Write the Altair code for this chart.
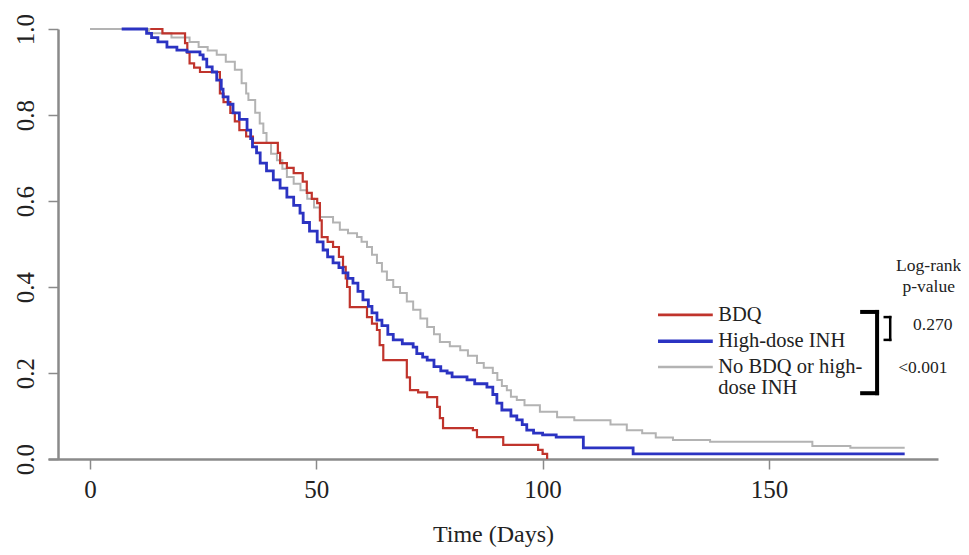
import altair as alt
import pandas as pd

groups = ["BDQ", "High-dose INH", "No BDQ or high-dose INH"]
colors = ["#c0342c", "#2b33c2", "#b3b3b3"]

# Kaplan-Meier step curves (time in days, survival probability)
bdq_t = [13.3, 16, 21, 21.5, 22, 23, 24.3, 28.7, 29.5, 31, 32, 33, 34.5, 36, 41.5, 42,
         43.5, 45, 47, 47.9, 49, 50.2, 50.8, 51.2, 52.5, 53.7, 55, 55.9, 56.5, 56.8, 57.4,
         61.2, 62.3, 63.4, 64, 64.8, 70, 70.7, 72.5, 74.5, 76.7, 77.3, 78, 84.6, 85.5,
         91.3, 99, 100, 101]
bdq_s = [1.0, 0.99, 0.967, 0.945, 0.92, 0.91, 0.9, 0.85, 0.83, 0.805, 0.785, 0.765, 0.75,
         0.735, 0.712, 0.688, 0.677, 0.665, 0.645, 0.619, 0.605, 0.595, 0.555, 0.516, 0.505,
         0.493, 0.47, 0.447, 0.42, 0.4, 0.353, 0.33, 0.315, 0.3, 0.265, 0.23, 0.19, 0.16,
         0.155, 0.144, 0.121, 0.095, 0.072, 0.067, 0.051, 0.033, 0.021, 0.012, 0.0]

inh_t = [7, 12.5, 13.6, 15, 17, 19.2, 21.4, 24.3, 25, 25.8, 27, 28, 29, 29.4, 30.5, 31.6,
         33, 34.7, 35.5, 35.9, 36.8, 37.6, 39, 40.5, 42, 43.5, 45, 46.4, 47.1, 48.5, 50.2,
         51.5, 52.5, 53.7, 55, 55.9, 57, 58.1, 59.2, 60.3, 61.5, 62.3, 63.4, 64.5, 65.8,
         67, 69, 71.4, 72.2, 73.5, 74.5, 76, 77.5, 78.9, 80, 83.3, 85, 87.7, 89, 89.9, 91,
         93, 94.3, 95.5, 96.5, 98, 100, 103, 109, 120, 180]
inh_s = [1.0, 0.99, 0.98, 0.97, 0.958, 0.951, 0.947, 0.94, 0.93, 0.912, 0.9, 0.881, 0.86,
         0.842, 0.825, 0.805, 0.79, 0.765, 0.745, 0.726, 0.712, 0.688, 0.67, 0.649, 0.63,
         0.609, 0.59, 0.572, 0.55, 0.53, 0.505, 0.486, 0.47, 0.456, 0.445, 0.433, 0.42,
         0.409, 0.39, 0.37, 0.355, 0.34, 0.323, 0.31, 0.29, 0.277, 0.268, 0.26, 0.245,
         0.237, 0.23, 0.215, 0.205, 0.2, 0.191, 0.184, 0.175, 0.167, 0.15, 0.13, 0.114,
         0.1, 0.091, 0.08, 0.067, 0.06, 0.056, 0.051, 0.026, 0.012, 0.012]

none_t = [0, 13, 18, 22, 24, 26, 28, 30, 32, 33.5, 34.5, 35, 36.5, 37.5, 38.3, 39, 40,
          41.3, 42.5, 43.5, 45, 46.5, 48, 49.5, 50.8, 53.7, 55.2, 57, 59, 60, 61.2, 62.3,
          63.4, 64.5, 65.6, 67, 68.5, 70, 71.4, 73, 74.5, 76, 77.3, 79.5, 81.8, 83.5, 85.5,
          87, 89, 90, 91, 92.1, 93, 94.3, 96, 99.4, 103.2, 107, 115, 118.6, 122, 125,
          128.8, 137, 159.6, 168, 180]
none_s = [1.0, 0.99, 0.98, 0.97, 0.958, 0.95, 0.94, 0.924, 0.905, 0.874, 0.85, 0.835,
          0.805, 0.78, 0.758, 0.735, 0.71, 0.695, 0.675, 0.656, 0.64, 0.625, 0.605, 0.585,
          0.563, 0.55, 0.533, 0.525, 0.516, 0.505, 0.493, 0.475, 0.456, 0.436, 0.416, 0.4,
          0.386, 0.366, 0.347, 0.327, 0.307, 0.29, 0.272, 0.262, 0.253, 0.24, 0.223, 0.212,
          0.2, 0.184, 0.17, 0.16, 0.145, 0.137, 0.125, 0.11, 0.097, 0.09, 0.08, 0.067,
          0.06, 0.05, 0.044, 0.04, 0.03, 0.026, 0.026]

x_ticks = [0, 50, 100, 150]
y_ticks = [0.0, 0.2, 0.4, 0.6, 0.8, 1.0]

legend_labels = [["BDQ"], ["High-dose INH"], ["No BDQ or high-", "dose INH"]]
p_header = ["Log-rank", "p-value"]
p_values = ["0.270", "<0.001"]

FONT = "Liberation Serif"

series = {
    groups[0]: (bdq_t, bdq_s),
    groups[1]: (inh_t, inh_s),
    groups[2]: (none_t, none_s),
}
rows = []
for g, (ts, ss) in series.items():
    for t, s in zip(ts, ss):
        rows.append({"g": g, "t": t, "s": s})
df = pd.DataFrame(rows)

x_scale = alt.Scale(domain=[-9.28, 187.36], nice=False, zero=False)
y_scale = alt.Scale(domain=[0, 1], nice=False, zero=False)

x_axis = alt.Axis(values=x_ticks, title="Time (Days)", grid=False, domainColor="#8a8a8a",
                  domainWidth=2.5, tickColor="#8a8a8a", tickWidth=1.5, tickSize=10,
                  labelFont=FONT, labelFontSize=25, labelColor="#222222", labelPadding=8,
                  titleFont=FONT, titleFontSize=24, titleFontWeight="normal",
                  titleColor="#222222", titlePadding=20)
y_axis = alt.Axis(values=y_ticks, format=".1f", title=None, grid=False, offset=-10,
                  domainColor="#8a8a8a", domainWidth=2.5, tickColor="#8a8a8a",
                  tickWidth=1.5, tickSize=10, labelFont=FONT, labelFontSize=25,
                  labelColor="#222222", labelAngle=270, labelAlign="center",
                  labelBaseline="alphabetic", labelPadding=15)


def X(field):
    return alt.X(field, scale=x_scale, axis=x_axis)


def Y(field):
    return alt.Y(field, scale=y_scale, axis=y_axis)


widths = {groups[0]: 2.2, groups[1]: 2.8, groups[2]: 2.0}


def curve(g):
    return alt.Chart(df).transform_filter(alt.datum.g == g).mark_line(
        interpolate="step-after", strokeWidth=widths[g], color=colors[groups.index(g)]
    ).encode(x=X("t:Q"), y=Y("s:Q"))


# legend rows
leg_y = [0.335, 0.274, 0.214]
leg_rows = []
txt_rows = []
for i, g in enumerate(groups):
    leg_rows.append({"g": g, "t": 125.5, "t2": 137.6, "s": leg_y[i], "w": widths[g] + 0.6})
    for j, line in enumerate(legend_labels[i]):
        txt_rows.append({"label": line, "t": 138.8, "s": leg_y[i] - j * 0.049})
leg_df = pd.DataFrame(leg_rows)
txt_df = pd.DataFrame(txt_rows)

leg_lines = alt.Chart(leg_df).mark_rule().encode(
    x=X("t:Q"),
    x2="t2:Q",
    y=Y("s:Q"),
    color=alt.Color("g:N", scale=alt.Scale(domain=groups, range=colors), legend=None),
    strokeWidth=alt.StrokeWidth("w:Q", scale=None, legend=None),
)
leg_text = alt.Chart(txt_df).mark_text(
    align="left", baseline="middle", font=FONT, fontSize=20.5, color="#222222"
).encode(x=X("t:Q"), y=Y("s:Q"), text="label:N")

# brackets
br_rows = [
    {"t": 175.6, "t2": 176.8, "s": 0.330, "s2": 0.330, "w": 2.5},
    {"t": 176.8, "t2": 176.8, "s": 0.330, "s2": 0.277, "w": 2.5},
    {"t": 175.6, "t2": 176.8, "s": 0.277, "s2": 0.277, "w": 2.5},
    {"t": 170.6, "t2": 173.9, "s": 0.342, "s2": 0.342, "w": 4},
    {"t": 173.9, "t2": 173.9, "s": 0.342, "s2": 0.153, "w": 4},
    {"t": 170.6, "t2": 173.9, "s": 0.153, "s2": 0.153, "w": 4},
]
br_df = pd.DataFrame(br_rows)
brackets = alt.Chart(br_df).mark_rule(color="black", strokeCap="square").encode(
    x=X("t:Q"), x2="t2:Q", y=Y("s:Q"), y2="s2:Q",
    strokeWidth=alt.StrokeWidth("w:Q", scale=None, legend=None),
)

p_rows = [
    {"label": p_header[0], "t": 185.3, "s": 0.449},
    {"label": p_header[1], "t": 185.3, "s": 0.400},
    {"label": p_values[0], "t": 186.2, "s": 0.312},
    {"label": p_values[1], "t": 184.0, "s": 0.212},
]
p_df = pd.DataFrame(p_rows)
p_text = alt.Chart(p_df).mark_text(
    align="center", baseline="middle", font=FONT, fontSize=17.5, color="#222222"
).encode(x=X("t:Q"), y=Y("s:Q"), text="label:N")

chart = alt.layer(
    curve(groups[2]),
    curve(groups[0]),
    curve(groups[1]),
    leg_lines, leg_text, brackets, p_text,
).properties(
    width=890, height=430,
    autosize=alt.AutoSizeParams(type="none"),
    padding={"left": 40, "top": 21, "right": 23, "bottom": 88},
).configure_view(stroke=None)

chart.save("out.html", embed_options={"renderer": "svg", "actions": False})
